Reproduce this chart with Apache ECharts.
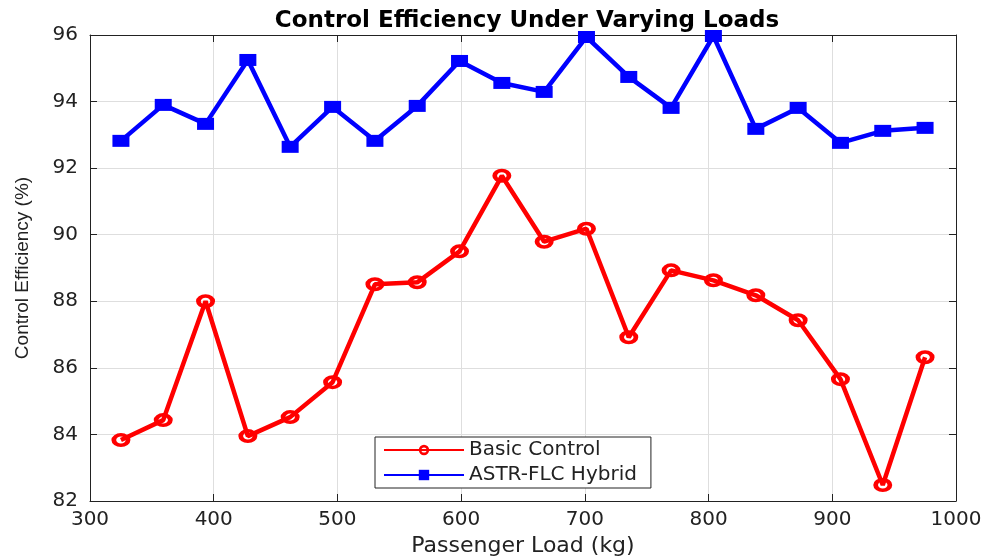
<!DOCTYPE html>
<html>
<head>
<meta charset="utf-8">
<script src="https://cdn.jsdelivr.net/npm/echarts@6/dist/echarts.min.js"></script>
<style>
  html, body { margin: 0; padding: 0; background: #fff; }
  #main { width: 986px; height: 557px; }
</style>
</head>
<body>
<div id="main"></div>
<script>
var loads = [325, 359.2, 393.4, 427.6, 461.8, 496.1, 530.3, 564.5, 598.7, 632.9,
             667.1, 701.3, 735.5, 769.7, 803.9, 838.2, 872.4, 906.6, 940.8, 975];
var basicControl = [83.83, 84.43, 88.0, 83.95, 84.52, 85.57, 88.51, 88.57, 89.5, 91.77,
                    89.79, 90.18, 86.92, 88.93, 88.63, 88.18, 87.43, 85.66, 82.48, 86.32];
var hybrid = [92.82, 93.9, 93.33, 95.25, 92.64, 93.84, 92.82, 93.87, 95.22, 94.56,
              94.29, 95.94, 94.74, 93.81, 95.97, 93.18, 93.81, 92.76, 93.12, 93.21];

function pairs(xs, ys) {
  return xs.map(function (x, i) { return [x, ys[i]]; });
}

// ring marker (outer circle minus inner circle)
var ring = 'path://M0,-10A10,10 0 1,1 0,10A10,10 0 1,1 0,-10Z' +
           'M0,-5A5,5 0 1,0 0,5A5,5 0 1,0 0,-5Z';

var font = 'DejaVu Sans, sans-serif';
var myChart = echarts.init(document.getElementById('main'));
var option = {
  animation: false,
  title: {
    text: 'Control Efficiency Under Varying Loads',
    left: 522,
    textAlign: 'center',
    top: 5,
    textStyle: { fontFamily: font, fontWeight: 'bold', fontSize: 23, color: '#000' }
  },
  grid: { left: 90, right: 30, top: 35, bottom: 56, outerBoundsMode: 'none' },
  legend: {
    orient: 'vertical',
    left: 375,
    top: 437,
    data: ['Basic Control', 'ASTR-FLC Hybrid'],
    itemWidth: 80,
    itemHeight: 13,
    itemGap: 5,
    padding: [3, 14, 3, 8],
    backgroundColor: '#fff',
    borderColor: '#222',
    borderWidth: 1,
    borderRadius: 0,
    textStyle: { fontFamily: font, fontSize: 20, color: '#222' }
  },
  xAxis: [
    {
      type: 'value', min: 300, max: 1000, interval: 100,
      name: 'Passenger Load (kg)', nameLocation: 'middle', nameGap: 33,
      nameTextStyle: { fontFamily: font, fontSize: 22, color: '#222' },
      axisLine: { show: true, onZero: false, lineStyle: { color: '#222', width: 1 } },
      axisTick: { show: true, inside: true, length: 7, lineStyle: { color: '#222' } },
      axisLabel: { fontFamily: font, fontSize: 20, color: '#222', margin: 9,
                   formatter: function (v) { return String(v); } },
      splitLine: { show: true, lineStyle: { color: '#dedede', width: 1 } }
    },
    {
      type: 'value', min: 300, max: 1000, interval: 100, position: 'top',
      axisLine: { show: true, onZero: false, lineStyle: { color: '#222', width: 1 } },
      axisTick: { show: true, inside: true, length: 7, lineStyle: { color: '#222' } },
      axisLabel: { show: false },
      splitLine: { show: false }
    }
  ],
  yAxis: [
    {
      type: 'value', min: 82, max: 96, interval: 2,
      name: 'Control Efficiency (%)', nameLocation: 'middle', nameGap: 58,
      nameTextStyle: { fontFamily: 'Liberation Sans, sans-serif', fontSize: 19, color: '#222' },
      axisLine: { show: true, onZero: false, lineStyle: { color: '#222', width: 1 } },
      axisTick: { show: true, inside: true, length: 7, lineStyle: { color: '#222' } },
      axisLabel: { fontFamily: font, fontSize: 20, color: '#222', margin: 12 },
      splitLine: { show: true, lineStyle: { color: '#dedede', width: 1 } }
    },
    {
      type: 'value', min: 82, max: 96, interval: 2, position: 'right',
      axisLine: { show: true, onZero: false, lineStyle: { color: '#222', width: 1 } },
      axisTick: { show: true, inside: true, length: 7, lineStyle: { color: '#222' } },
      axisLabel: { show: false },
      splitLine: { show: false }
    }
  ],
  series: [
    {
      name: 'Basic Control',
      type: 'line',
      data: pairs(loads, basicControl),
      symbol: ring,
      symbolSize: [19, 14],
      color: '#ff0000',
      lineStyle: { width: 4.5, color: '#ff0000' },
      itemStyle: { color: '#ff0000' }
    },
    {
      name: 'ASTR-FLC Hybrid',
      type: 'line',
      data: pairs(loads, hybrid),
      symbol: 'rect',
      symbolSize: [17, 12],
      color: '#0000ff',
      lineStyle: { width: 4.5, color: '#0000ff' },
      itemStyle: { color: '#0000ff' }
    }
  ]
};
myChart.setOption(option);
</script>
</body>
</html>
